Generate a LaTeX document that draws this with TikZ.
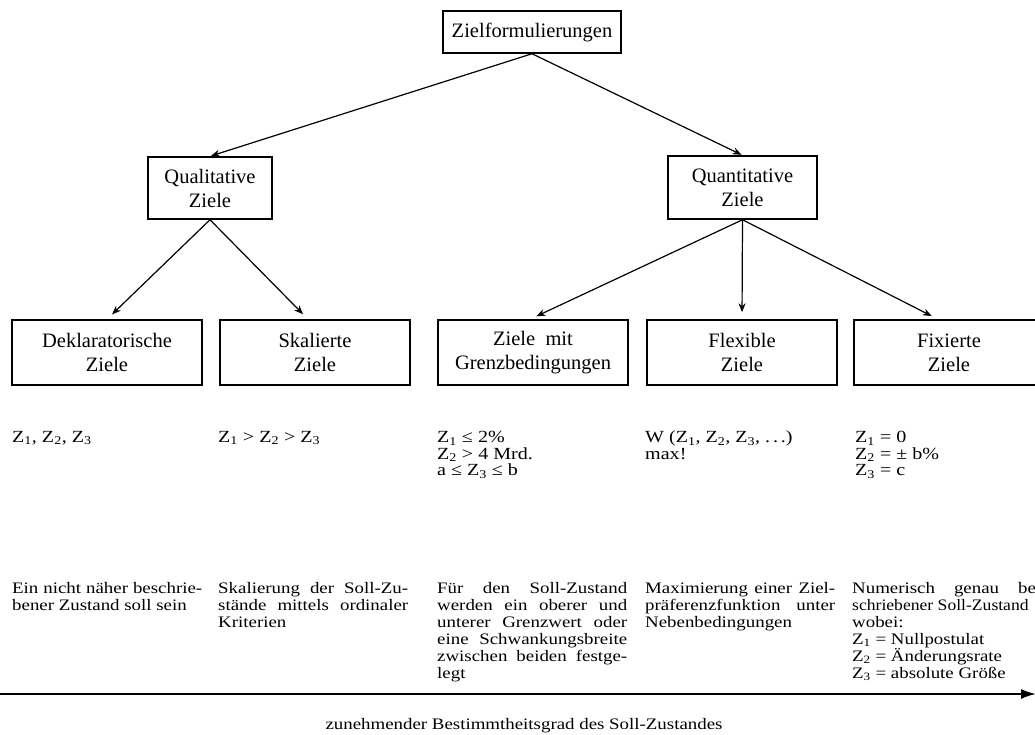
\documentclass[tikz,border=0pt]{standalone}
\usepackage{fontspec}
\setmainfont{Liberation Serif}
\newfontfamily\descfont[FakeStretch=1.18]{Liberation Serif}
\newfontfamily\descfontnarrow[FakeStretch=1.1]{Liberation Serif}
\usetikzlibrary{arrows.meta,calc}
\newcommand\justline[1]{\makebox[190pt][s]{#1}}
\begin{document}
\begin{tikzpicture}[x=1pt,y=-1pt,
  box/.style={draw, line width=1.5pt, align=center, inner sep=0pt, font=\fontsize{20.5}{24}\selectfont},
  rowbox/.style={box, minimum width=190pt, minimum height=65pt},
  arr/.style={line width=1.2pt, -{Stealth[length=9pt,width=7pt]}},
  desc/.style={anchor=north west, inner sep=0pt, align=left, font=\descfont\fontsize{16}{17}\selectfont},
  formula/.style={anchor=north west, inner sep=0pt, align=left, font=\descfont\fontsize{17}{16.6}\selectfont},
  axis/.style={line width=1.8pt, -{Latex[length=15pt,width=10pt]}}
  ]
\useasboundingbox (0,0) rectangle (1035,735);
\clip (0,0) rectangle (1035,735);

% boxes
\node[box, minimum width=178pt, minimum height=42pt] (top) at (532,32) {Zielformulierungen};
\node[box, minimum width=124pt, minimum height=62pt] (qual) at (210,188) {Qualitative\\Ziele};
\node[box, minimum width=149pt, minimum height=63pt] (quant) at (742.5,187.5) {Quantitative\\Ziele};

\node[rowbox] (dek) at (107,352.5) {Deklaratorische\\Ziele};
\node[rowbox] (skal) at (315,352.5) {Skalierte\\Ziele};
\node[rowbox] (grenz) at (533,352.5) {Ziele\ \ mit\\Grenzbedingungen};
\node[rowbox] (flex) at (742,352.5) {Flexible\\Ziele};
\node[rowbox] (fix) at (949,352.5) {Fixierte\\Ziele};

% connectors
\draw[arr, shorten >=1pt] (top.south) -- (qual.north);
\draw[arr, shorten >=1pt] (top.south) -- (quant.north);
\draw[arr, shorten >=7pt] (qual.south) -- (dek.north);
\draw[arr, shorten >=7pt] (qual.south) -- ($(skal.north)+(-7,0)$);
\draw[arr, shorten >=7pt] (quant.south) -- ($(grenz.north)+(-3,0)$);
\draw[arr, shorten >=7pt] (quant.south) -- (flex.north);
\draw[arr, shorten >=7pt] (quant.south) -- ($(fix.north)+(-11,0)$);

% formulas
\node[formula] (f1) at (12,431) {Z\textsubscript{1}, Z\textsubscript{2}, Z\textsubscript{3}};
\node[formula] (f2) at (218,431) {Z\textsubscript{1} > Z\textsubscript{2} > Z\textsubscript{3}};
\node[formula] (f3) at (437,431) {Z\textsubscript{1} ≤ 2\%\\Z\textsubscript{2} > 4 Mrd.\\a ≤ Z\textsubscript{3} ≤ b};
\node[formula] (f4) at (645,431) {W (Z\textsubscript{1}, Z\textsubscript{2}, Z\textsubscript{3}, .\,.\,.)\\max!};
\node[formula] (f5) at (855,431) {Z\textsubscript{1} = 0\\Z\textsubscript{2} = ± b\%\\Z\textsubscript{3} = c};

% descriptions
\node[desc] (d1) at (12,582) {\justline{Ein nicht näher beschrie-}\\bener Zustand soll sein};
\node[desc] (d2) at (218,582) {\justline{Skalierung der Soll-Zu-}\\\justline{stände mittels ordinaler}\\Kriterien};
\node[desc] (d3) at (437,582) {\justline{Für den Soll-Zustand}\\\justline{werden ein oberer und}\\\justline{unterer Grenzwert oder}\\\justline{eine Schwankungsbreite}\\\justline{zwischen beiden festge-}\\legt};
\node[desc] (d4) at (645,582) {\justline{Maximierung einer Ziel-}\\\justline{präferenzfunktion unter}\\Nebenbedingungen};
\node[desc] (d5) at (852,582) {\justline{Numerisch genau be-}\\{\descfontnarrow schriebener Soll-Zustand}\\wobei:\\Z\textsubscript{1} = Nullpostulat\\Z\textsubscript{2} = Änderungsrate\\Z\textsubscript{3} = absolute Größe};

% axis
\coordinate (axl) at (0,694);
\coordinate (axr) at (1036,694);
\draw[axis] (axl) -- (axr);
\node[font=\descfont\fontsize{16}{17}\selectfont, inner sep=0pt] (lab) at (524,726) {zunehmender Bestimmtheitsgrad des Soll-Zustandes};
\end{tikzpicture}
\end{document}
